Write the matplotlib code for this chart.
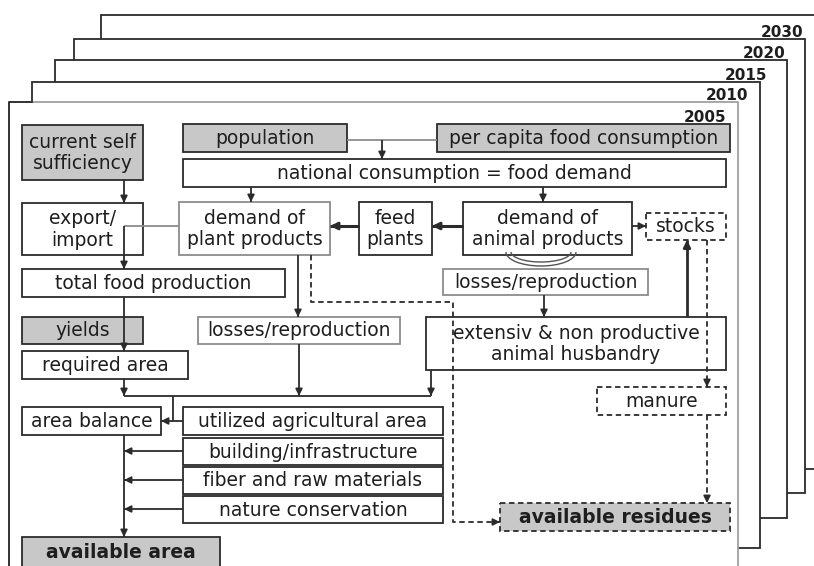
import matplotlib

matplotlib.use("Agg")
import matplotlib.pyplot as plt  # noqa: E402
from matplotlib.patches import Arc, Rectangle  # noqa: E402

# scenario sheets, back to front
YEARS = ["2030", "2020", "2015", "2010", "2005"]

# node texts, grouped by role (ids -> texts)
INPUT_IDS = ["selfsuff", "pop", "percap", "yields"]
INPUT_TXT = ["current self\nsufficiency", "population", "per capita food consumption", "yields"]
DEMAND_IDS = ["natcons", "export", "plant", "feed", "animal"]
DEMAND_TXT = ["national consumption = food demand", "export/\nimport", "demand of\nplant products",
              "feed\nplants", "demand of\nanimal products"]
PROD_IDS = ["totprod", "loss_an", "loss_pl", "extens", "reqarea"]
PROD_TXT = ["total food production", "losses/reproduction", "losses/reproduction",
            "extensiv & non productive\nanimal husbandry", "required area"]
LAND_IDS = ["balance", "uaa", "build", "fiber", "nature"]
LAND_TXT = ["area balance", "utilized agricultural area", "building/infrastructure",
            "fiber and raw materials", "nature conservation"]
RESID_IDS = ["stocks", "manure"]
RESID_TXT = ["stocks", "manure"]
OUT_IDS = ["avarea", "avres"]
OUT_TXT = ["available area", "available residues"]

# ---- layout (pixel coordinates, origin top-left) ----
PAGE = {"2030": (101, 15, 840, 469), "2020": (74, 39, 805, 493), "2015": (55, 60, 787, 518),
        "2010": (32, 82, 760, 548), "2005": (9, 102, 738, 600)}
YEAR_POS = {"2030": (803, 37), "2020": (785, 58), "2015": (767, 80), "2010": (748, 100),
            "2005": (726, 122)}
GEOM = {
    "selfsuff": (22, 125, 143, 180), "pop": (183, 124, 347, 152), "percap": (437, 124, 730, 152),
    "yields": (22, 317, 143, 344),
    "natcons": (183, 159, 726, 187), "export": (22, 203, 143, 255), "plant": (179, 202, 330, 255),
    "feed": (359, 202, 432, 255), "animal": (463, 202, 632, 255),
    "totprod": (22, 269, 285, 297), "loss_an": (443, 269, 648, 295), "loss_pl": (198, 317, 400, 344),
    "extens": (426, 317, 726, 370), "reqarea": (22, 351, 188, 379),
    "balance": (22, 407, 161, 435), "uaa": (183, 407, 443, 435), "build": (183, 438, 443, 465),
    "fiber": (183, 467, 443, 494), "nature": (183, 496, 443, 523),
    "stocks": (646, 213, 726, 240), "manure": (597, 387, 726, 415),
    "avarea": (22, 537, 220, 567), "avres": (500, 503, 730, 531),
}
GRAY = "#c8c8c8"
DARK = "#2b2b2b"
LIGHT = "#8c8c8c"
TXT = "#1e1e1e"
DASH = (0, (3, 2))
FS = 13.5

fig = plt.figure(figsize=(8.14, 5.66), dpi=100)
ax = fig.add_axes([0, 0, 1, 1])
ax.set_xlim(0, 814)
ax.set_ylim(566, 0)
ax.set_axis_off()

# stacked sheets
for yr in YEARS:
    x0, y0, x1, y1 = PAGE[yr]
    front = yr == "2005"
    ax.add_patch(Rectangle((x0, y0), x1 - x0, y1 - y0, fc="white",
                           ec="none" if front else DARK, lw=1.3, zorder=1))
    if front:
        ax.plot([x0, x0, x1, x1], [y1, y0, y0, y1], color="#a0a0a0", lw=1.3, zorder=1.1)
        ax.plot([x0, x0, 32], [y1, y0, y0], color=DARK, lw=1.3, zorder=1.2)
    tx, ty = YEAR_POS[yr]
    ax.text(tx, ty, yr, ha="right", va="baseline", fontsize=11, fontweight="bold",
            color=TXT, zorder=2)


def box(key, text, fill=False, dashed=False, bold=False, edge=DARK):
    x0, y0, x1, y1 = GEOM[key]
    ax.add_patch(Rectangle((x0, y0), x1 - x0, y1 - y0, fc=GRAY if fill else "white",
                           ec=edge, lw=1.3, ls=DASH if dashed else "-", zorder=3))
    ax.text((x0 + x1) / 2, (y0 + y1) / 2 + 0.5, text, ha="center", va="center", fontsize=FS,
            fontweight="bold" if bold else "normal", color=TXT, zorder=4, linespacing=1.15)


def link(pts, arrow=True, dashed=False, lw=1.3, color=DARK, head=7):
    xs, ys = zip(*pts)
    ax.plot(xs, ys, color=color, lw=lw, ls=DASH if dashed else "-", zorder=5,
            solid_capstyle="butt")
    if arrow:
        (xa, ya), (xb, yb) = pts[-2], pts[-1]
        d = ((xb - xa) ** 2 + (yb - ya) ** 2) ** 0.5
        ux, uy = (xb - xa) / d, (yb - ya) / d
        ax.annotate("", xy=(xb, yb), xytext=(xb - ux * head, yb - uy * head), zorder=6,
                    arrowprops=dict(arrowstyle="-|>", color=color, lw=lw, shrinkA=0, shrinkB=0,
                                    mutation_scale=10))


for k, t in zip(INPUT_IDS, INPUT_TXT):
    box(k, t, fill=True)
for k, t in zip(DEMAND_IDS, DEMAND_TXT):
    box(k, t, edge=LIGHT if k == "plant" else DARK)
for k, t in zip(PROD_IDS, PROD_TXT):
    box(k, t, edge=LIGHT if k.startswith("loss") else DARK)
for k, t in zip(LAND_IDS, LAND_TXT):
    box(k, t)
for k, t in zip(RESID_IDS, RESID_TXT):
    box(k, t, dashed=True)
box("avarea", OUT_TXT[0], fill=True, bold=True)
box("avres", OUT_TXT[1], fill=True, dashed=True, bold=True)

# connectors
link([(347, 140), (437, 140)], arrow=False, color=LIGHT)
link([(382, 140), (382, 159)])
link([(124, 180), (124, 203)])
link([(251, 187), (251, 202)])
link([(543, 187), (543, 202)])
link([(179, 226), (124, 226)], arrow=False, color=LIGHT)
link([(124, 226), (124, 269)])
link([(359, 226), (330, 226)], lw=2.2)
link([(463, 226), (432, 226)], lw=2.2)
link([(632, 226), (646, 226)])
link([(298, 255), (298, 317)])
link([(311, 255), (311, 302), (453, 302), (453, 522), (500, 522)], dashed=True)
link([(544, 295), (544, 317)])
link([(687, 317), (687, 240)], lw=2.0)
link([(707, 240), (707, 387)], dashed=True)
link([(707, 415), (707, 503)], dashed=True)
link([(124, 297), (124, 351)])
link([(124, 379), (124, 396)])
link([(124, 396), (431, 396)], arrow=False)
link([(299, 344), (299, 396)])
link([(431, 370), (431, 396)])
link([(173, 396), (173, 421)], arrow=False)
link([(183, 421), (161, 421)])
link([(124, 435), (124, 537)])
for y in (451, 480, 509):
    link([(183, y), (124, y)])

# recycling loop under the animal box
for w, h in ((70, 28), (60, 20)):
    ax.add_patch(Arc((541, 252), w, h, theta1=0, theta2=180, color="#555555", lw=1.0, zorder=5))

fig.savefig("out.png", dpi=100)
